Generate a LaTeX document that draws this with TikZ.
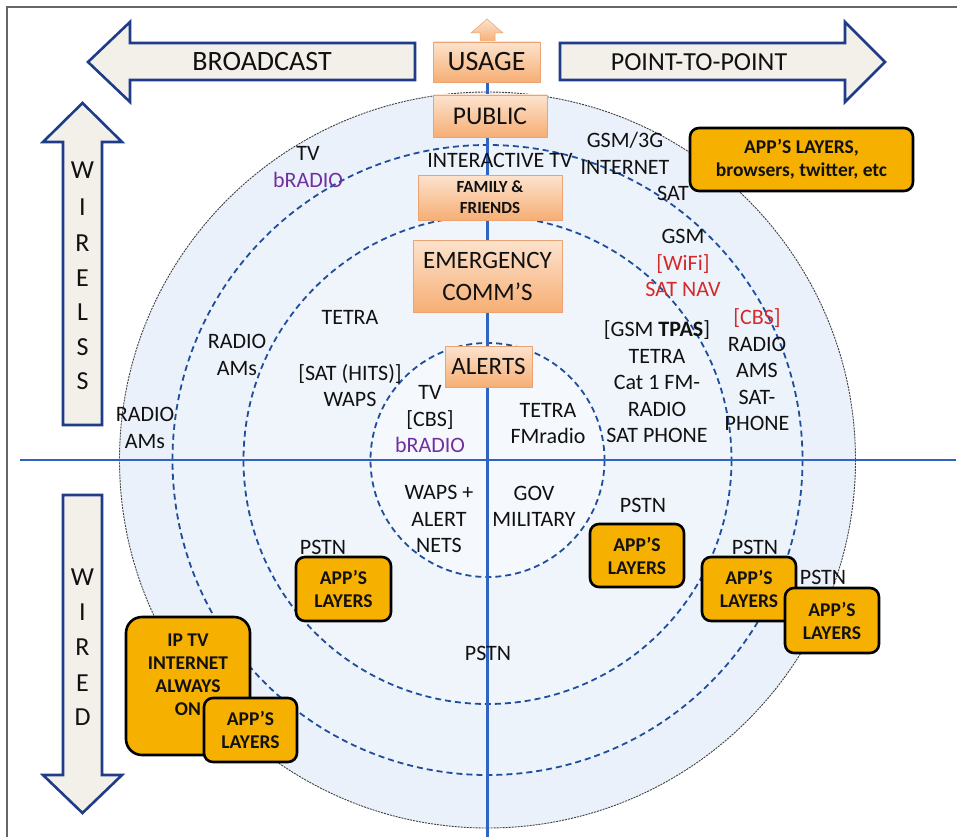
\documentclass[tikz,border=0pt]{standalone}
\usepackage{fontspec}
\setmainfont{Carlito}
\definecolor{arrowfill}{HTML}{F3F0EA}
\definecolor{arrowdraw}{HTML}{1F3C88}
\definecolor{ringA}{HTML}{EAF1FA}
\definecolor{ringB}{HTML}{EDF3FB}
\definecolor{ringC}{HTML}{F0F5FC}
\definecolor{ringD}{HTML}{F5F8FD}
\definecolor{dashblue}{HTML}{1F4E9A}
\definecolor{axisblue}{HTML}{2F64C2}
\definecolor{appfill}{HTML}{F6B000}
\definecolor{orTop}{HTML}{FCE3CE}
\definecolor{orBot}{HTML}{F6AE74}
\definecolor{orDraw}{HTML}{EBA373}
\definecolor{purp}{HTML}{7030A0}
\definecolor{redt}{HTML}{D42A2A}
\definecolor{txt}{HTML}{111111}
\definecolor{framegray}{HTML}{666666}
\begin{document}
\begin{tikzpicture}[x=1pt,y=-1pt,
  lbl/.style={font=\fontsize{22}{26.5}\selectfont, align=center, inner sep=0pt, text=txt},
  bigtext/.style={font=\fontsize{25}{32}\selectfont, align=center, inner sep=0pt, text=txt},
  orbox/.style={draw=orDraw, line width=0.6pt, top color=orTop, bottom color=orBot, inner sep=0pt, align=center, text=txt},
  appbox/.style={draw=black, line width=2.6pt, fill=appfill, rounded corners=9pt, inner sep=0pt, align=center, font=\bfseries\fontsize{19.5}{23}\selectfont, text=txt},
  blockarrow/.style={draw=arrowdraw, line width=2.6pt, fill=arrowfill, line join=miter},
  dashring/.style={draw=dashblue, line width=1.8pt, dash pattern=on 6pt off 4pt},
  axisline/.style={draw=axisblue, line width=2.6pt},
]
\useasboundingbox (0,0) rectangle (957,837);

% frame
\draw[framegray, line width=1.2pt] (7,837) -- (7,7) -- (957,7);

% circles
\coordinate (c) at (487.5,460);
\fill[ringA] (c) circle (368);
\fill[ringB] (c) circle (315);
\fill[ringC] (c) circle (244);
\fill[ringD] (c) circle (117);
\draw[black!75, line width=0.9pt, dash pattern=on 2pt off 1pt] (c) circle (368);
\draw[dashring] (c) circle (315);
\draw[dashring] (c) circle (244);
\draw[dashring] (c) circle (117);

% axes
\coordinate (hL) at (20,460);
\coordinate (hR) at (956,460);
\coordinate (vT) at (487.5,80);
\coordinate (vB) at (487.5,837);
\draw[axisline] (hL) -- (hR);
\draw[axisline] (vT) -- (vB);

% block arrows
\draw[blockarrow] (88,62) -- (130,22) -- (130,43) -- (415,43) -- (415,80) -- (130,80) -- (130,102) -- cycle;
\node[bigtext, font=\fontsize{28}{30}\selectfont] (broadcast) at (262,62) {BROADCAST};
\draw[blockarrow] (885,62) -- (845,22) -- (845,43) -- (560,43) -- (560,80) -- (845,80) -- (845,102) -- cycle;
\node[bigtext, font=\fontsize{26}{30}\selectfont] (ptp) at (699,62) {POINT-TO-POINT};
\draw[blockarrow] (82.5,103) -- (122,142) -- (102,142) -- (102,425) -- (63,425) -- (63,142) -- (43,142) -- cycle;
\draw[blockarrow] (82.5,813) -- (122,775) -- (102,775) -- (102,495) -- (63,495) -- (63,775) -- (43,775) -- cycle;
\foreach \ch/\yy [count=\i] in {W/170,I/207,R/243,E/278,L/312,S/347,S/381}
  \node[bigtext, font=\fontsize{26}{30}\selectfont] (wl\i) at (82.5,\yy) {\ch};
\foreach \ch/\yy [count=\i] in {W/577,I/612,R/647,E/683,D/717}
  \node[bigtext, font=\fontsize{26}{30}\selectfont] (wd\i) at (82.5,\yy) {\ch};

% small usage arrow
\draw[orDraw, line width=0.5pt, top color=orTop, bottom color=orBot] (487,19) -- (503,33) -- (495,33) -- (495,42) -- (480,42) -- (480,33) -- (471,33) -- cycle;

% orange boxes
\node[orbox, minimum width=107pt, minimum height=40pt, font=\fontsize{28}{30}\selectfont] (usage) at (486.5,62) {USAGE};
\node[orbox, minimum width=114pt, minimum height=42pt, font=\fontsize{25.5}{30}\selectfont] (public) at (490,116) {PUBLIC};
\node[orbox, minimum width=144pt, minimum height=45pt, font=\bfseries\fontsize{17}{21}\selectfont] (family) at (490,197.5) {FAMILY \&\\FRIENDS};
\node[orbox, minimum width=149pt, minimum height=72pt, font=\fontsize{25}{32}\selectfont] (emerg) at (487.5,276) {EMERGENCY\\COMM’S};
\node[orbox, minimum width=87pt, minimum height=41pt, font=\fontsize{25}{30}\selectfont] (alerts) at (488.5,366.5) {ALERTS};

% labels upper half
\node[lbl] (itv) at (500,160) {INTERACTIVE TV};
\node[lbl] (tvb) at (308,167) {TV\\\textcolor{purp}{bRADIO}};
\node[lbl] (gsm3g) at (625,153.5) {GSM/3G\\INTERNET};
\node[lbl] (sat1) at (673,193) {SAT};
\node[lbl] (gsmwifi) at (683,263) {GSM\\\textcolor{redt}{[WiFi]}\\\textcolor{redt}{SAT NAV}};
\node[lbl] (cbsr) at (757,370) {\textcolor{redt}{[CBS]}\\RADIO\\AMS\\SAT-\\PHONE};
\node[lbl] (gsmtpas) at (657,382) {[GSM \textbf{TPAS}]\\TETRA\\Cat 1 FM-\\RADIO\\SAT PHONE};
\node[lbl] (tetra1) at (350,317) {TETRA};
\node[lbl] (sathits) at (350,385.5) {[SAT (HITS)]\\WAPS};
\node[lbl] (radio2) at (237,355) {RADIO\\AMs};
\node[lbl] (radio1) at (145,428) {RADIO\\AMs};
\node[lbl] (tvcbs) at (430,419.5) {TV\\{[CBS]}\\\textcolor{purp}{bRADIO}};
\node[lbl] (tetrafm) at (548,423.5) {TETRA\\FMradio};

% labels lower half
\node[lbl] (waps) at (439,519) {WAPS +\\ALERT\\NETS};
\node[lbl] (gov) at (534,506.5) {GOV\\MILITARY};
\node[lbl] (pstnc) at (488,653) {PSTN};
\node[lbl] (pstn1) at (643,505) {PSTN};
\node[lbl] (pstn2) at (755,547) {PSTN};
\node[lbl] (pstn3) at (823,577) {PSTN};
\node[lbl] (pstnl) at (323,547) {PSTN};

% app boxes
\node[appbox, minimum width=223pt, minimum height=63pt] (apptop) at (801.5,159.5) {APP’S LAYERS,\\browsers, twitter, etc};
\node[appbox, minimum width=94pt, minimum height=63pt] (app2) at (637,555.5) {APP’S\\LAYERS};
\node[appbox, minimum width=94pt, minimum height=64pt] (app3) at (749,589) {APP’S\\LAYERS};
\node[appbox, minimum width=94pt, minimum height=65pt] (app4) at (832,620.5) {APP’S\\LAYERS};
\node[appbox, minimum width=95pt, minimum height=64pt] (app5) at (343.5,589) {APP’S\\LAYERS};
\node[appbox, minimum width=124pt, minimum height=138pt, rounded corners=16pt] (iptv) at (188,686) {};
\node[font=\bfseries\fontsize{19.5}{23}\selectfont, align=center, inner sep=0pt, text=txt] (iptvtext) at (188,674.5) {IP TV\\INTERNET\\ALWAYS\\ON};
\node[appbox, minimum width=93pt, minimum height=64pt] (app6) at (250.5,730) {APP’S\\LAYERS};
\end{tikzpicture}
\end{document}
